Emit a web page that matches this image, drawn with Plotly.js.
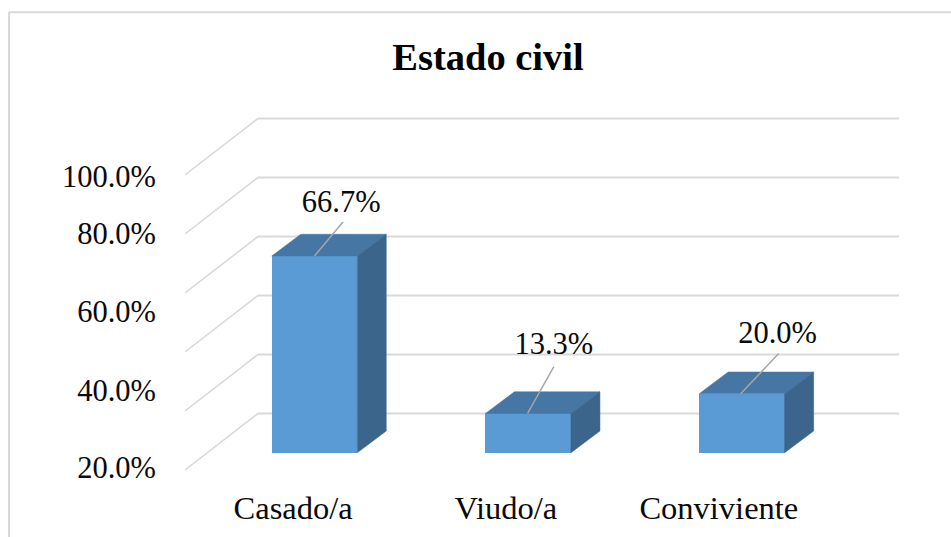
<!DOCTYPE html>
<html>
<head>
<meta charset="utf-8">
<script src="https://cdn.plot.ly/plotly-3.0.1.min.js"></script>
<style>html,body{margin:0;padding:0;background:#fff}#chart{width:951px;height:537px}</style>
</head>
<body>
<div id="chart"></div>
<script>
// Data
var categories = ["Casado/a", "Viudo/a", "Conviviente"];
var values = [66.7, 13.3, 20.0];
var gridValues = [0, 20, 40, 60, 80, 100];
var yTickLabels = ["100.0%", "80.0%", "60.0%", "40.0%", "20.0%"];
var yTickPositions = [93.6, 74.3, 47.8, 21.3, -4.8];

// Pseudo-3D geometry, in axis units
var positions = categories.map(function (_, i) { return i; });
var barWidth = 0.4;
var depthX = 0.1357, depthY = 7.36;
var floorFront = -5.86, floorBack = 13.29;
var wallX0 = -0.606, wallX1 = -0.2644, xMax = 2.735;
var catLabelShift = -0.1;
var catLabelDX = [0, -0.005, -0.008];
var labelDX = [0.125, 0.12, 0.167];
var labelDY = [17.6, 22.7, 19.7];
var leaderStartDX = [0, -0.003, -0.006];
var leaderEndDX = [0.133, 0.12, 0.172];
var leaderEndDY = [11.5, 15.9, 13.6];

var FRONT = "#5B9BD5", TOP = "#4676A3", SIDE = "#3B658B", GRID = "#D9D9D9", LEADER = "#A6A6A6";
var FONT = "Liberation Serif, Times New Roman, serif";
var INK = "#0a0a0a";

var traces = [];
positions.forEach(function (p, i) {
  var l = p - barWidth / 2, r = p + barWidth / 2, v = values[i];
  traces.push({type: "scatter", mode: "lines", fill: "toself", fillcolor: TOP, hoverinfo: "skip", showlegend: false,
    line: {color: TOP, width: 0.5},
    x: [l, r, r + depthX, l + depthX, l], y: [v, v, v + depthY, v + depthY, v]});
  traces.push({type: "scatter", mode: "lines", fill: "toself", fillcolor: SIDE, hoverinfo: "skip", showlegend: false,
    line: {color: SIDE, width: 0.5},
    x: [r, r + depthX, r + depthX, r, r], y: [0, depthY, v + depthY, v, 0]});
});
traces.unshift({type: "bar", x: positions, y: values, width: barWidth, showlegend: false,
  marker: {color: FRONT, line: {width: 0}}});
positions.forEach(function (p, i) {
  traces.push({type: "scatter", mode: "lines", hoverinfo: "skip", showlegend: false,
    line: {color: LEADER, width: 1.5},
    x: [p + leaderStartDX[i], p + leaderEndDX[i]],
    y: [values[i], values[i] + leaderEndDY[i]]});
});
traces.push({type: "scatter", mode: "text", hoverinfo: "skip", showlegend: false,
  x: positions.map(function (p, i) { return p + labelDX[i]; }),
  y: values.map(function (v, i) { return v + labelDY[i]; }),
  text: values.map(function (v) { return v.toFixed(1) + "%"; }),
  textposition: "middle center",
  textfont: {family: FONT, size: 30.5, color: INK}, cliponaxis: false});

var shapes = [];
gridValues.forEach(function (g) {
  shapes.push({type: "line", layer: "below", xref: "x", yref: "y", x0: wallX0, y0: g + floorFront, x1: wallX1, y1: g + floorBack,
    line: {color: GRID, width: 1.6}});
  shapes.push({type: "line", layer: "below", xref: "x", yref: "y", x0: wallX1, y0: g + floorBack, x1: xMax, y1: g + floorBack,
    line: {color: GRID, width: 2.1}});
});
// chart frame: only the left and top edges are inside the picture
shapes.push({type: "line", layer: "below", xref: "paper", yref: "paper", x0: -0.2465, x1: -0.2465, y0: -0.1805, y1: 1.2697, line: {color: GRID, width: 2}});
shapes.push({type: "line", layer: "below", xref: "paper", yref: "paper", x0: -0.2465, x1: 1.0728, y0: 1.2697, y1: 1.2697, line: {color: GRID, width: 2}});

var layout = {
  width: 951, height: 537, autosize: false,
  paper_bgcolor: "#fff", plot_bgcolor: "rgba(0,0,0,0)",
  margin: {l: 185, r: 52, t: 110, b: 65, pad: 0},
  showlegend: false,
  title: {text: "<b>Estado civil</b>", x: 488 / 951, xanchor: "center", y: 1 - 57 / 537, yanchor: "middle",
    font: {family: FONT, size: 38.5, color: "#000"}},
  font: {family: FONT, color: INK},
  xaxis: {range: [wallX0, xMax], showgrid: false, zeroline: false, showline: false,
    tickmode: "array", tickvals: positions.map(function (p, i) { return p + catLabelShift + catLabelDX[i]; }), ticktext: categories,
    ticks: "", ticklabelstandoff: 13, tickfont: {family: FONT, size: 32.5, color: INK}},
  yaxis: {range: [-6.54, 116.17], showgrid: false, zeroline: false, showline: false,
    tickmode: "array", tickvals: yTickPositions, ticktext: yTickLabels,
    ticks: "", ticklabelstandoff: 28, tickfont: {family: FONT, size: 30.5, color: INK}},
  shapes: shapes,
  bargap: 0
};
Plotly.newPlot("chart", traces, layout, {displayModeBar: false, staticPlot: true});
</script>
</body>
</html>
